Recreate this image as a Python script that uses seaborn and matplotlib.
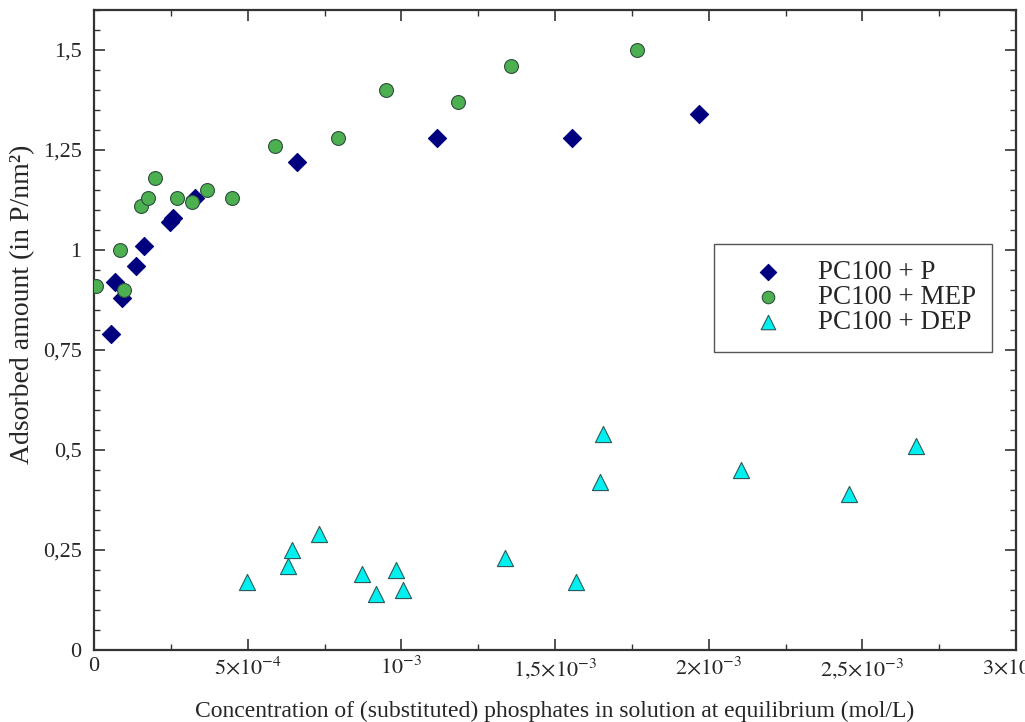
import numpy as np
import pandas as pd
import seaborn as sns
import matplotlib
matplotlib.use("Agg")
import matplotlib.pyplot as plt
from matplotlib.ticker import MultipleLocator, FixedLocator, FixedFormatter

# ---- data ----
p_x = [0.055e-3, 0.068e-3, 0.091e-3, 0.136e-3, 0.162e-3, 0.247e-3, 0.256e-3, 0.328e-3,
       0.659e-3, 1.117e-3, 1.555e-3, 1.968e-3]
p_y = [0.79, 0.92, 0.88, 0.96, 1.01, 1.07, 1.08, 1.13, 1.22, 1.28, 1.28, 1.34]

mep_x = [0.006e-3, 0.084e-3, 0.097e-3, 0.153e-3, 0.175e-3, 0.198e-3, 0.269e-3, 0.318e-3,
         0.367e-3, 0.448e-3, 0.588e-3, 0.795e-3, 0.951e-3, 1.185e-3, 1.357e-3, 1.766e-3]
mep_y = [0.91, 1.00, 0.90, 1.11, 1.13, 1.18, 1.13, 1.12, 1.15, 1.13, 1.26, 1.28, 1.40,
         1.37, 1.46, 1.50]

dep_x = [0.497e-3, 0.630e-3, 0.643e-3, 0.731e-3, 0.873e-3, 0.919e-3, 0.984e-3, 1.006e-3,
         1.338e-3, 1.568e-3, 1.646e-3, 1.656e-3, 2.104e-3, 2.458e-3, 2.675e-3]
dep_y = [0.17, 0.21, 0.25, 0.29, 0.19, 0.14, 0.20, 0.15, 0.23, 0.17, 0.42, 0.54, 0.45,
         0.39, 0.51]

series_names = ["PC100 + P", "PC100 + MEP", "PC100 + DEP"]
x_ticks = [0, 5e-4, 1e-3, 1.5e-3, 2e-3, 2.5e-3, 3e-3]
x_tick_labels = ["0", r"$5{\times}10^{-4}$", r"$10^{-3}$", r"$1{,}5{\times}10^{-3}$",
                 r"$2{\times}10^{-3}$", r"$2{,}5{\times}10^{-3}$", r"$3{\times}10^{-3}$"]
y_ticks = [0, 0.25, 0.5, 0.75, 1.0, 1.25, 1.5]
y_tick_labels = ["0", "0,25", "0,5", "0,75", "1", "1,25", "1,5"]

df = pd.DataFrame({
    "x": p_x + mep_x + dep_x,
    "y": p_y + mep_y + dep_y,
    "series": [series_names[0]] * len(p_x) + [series_names[1]] * len(mep_x)
              + [series_names[2]] * len(dep_x),
})

sns.set_style("white")
plt.rcParams["font.family"] = ["Liberation Serif", "DejaVu Serif"]
plt.rcParams["mathtext.fontset"] = "stix"

fig = plt.figure(figsize=(10.25, 7.22), dpi=100)
ax = fig.add_axes([94 / 1025, 72 / 722, (1016 - 94) / 1025, 640 / 722])

palette = {series_names[0]: "#00007f", series_names[1]: "#4caf50", series_names[2]: "#00f0f0"}
markers = {series_names[0]: "D", series_names[1]: "o", series_names[2]: "^"}
edges = {series_names[0]: "#00007f", series_names[1]: "#2f4f3f", series_names[2]: "#2a5a5a"}

for name, s in zip(series_names, [85, 100, 135]):
    sub = df[df.series == name]
    sns.scatterplot(data=sub, x="x", y="y", color=palette[name], marker=markers[name],
                    s=s, edgecolor=edges[name], linewidth=0.8, ax=ax, label=name, zorder=3)

ax.set_xlim(0, 3e-3)
ax.set_ylim(0, 1.6)
ax.xaxis.set_major_locator(FixedLocator(x_ticks))
ax.xaxis.set_major_formatter(FixedFormatter(x_tick_labels))
ax.xaxis.set_minor_locator(MultipleLocator(2.5e-4))
ax.yaxis.set_major_locator(FixedLocator(y_ticks))
ax.yaxis.set_major_formatter(FixedFormatter(y_tick_labels))
ax.yaxis.set_minor_locator(MultipleLocator(0.05))

ax.tick_params(which="both", direction="in", top=True, right=True, bottom=True, left=True,
               color="#333333", labelsize=16)
ax.tick_params(axis="x", which="major", pad=5)
ax.tick_params(axis="y", which="major", pad=9)
ax.tick_params(which="major", length=8, width=1.2)
ax.tick_params(which="minor", length=4, width=1.0)
for sp in ax.spines.values():
    sp.set_color("#333333")
    sp.set_linewidth(1.6)

ax.set_xlabel("Concentration of (substituted) phosphates in solution at equilibrium (mol/L)",
              fontsize=17, labelpad=14)
ax.set_ylabel("Adsorbed amount (in P/nm²)", fontsize=20)
ax.yaxis.set_label_coords((35 - 94) / 922, (650 - 304) / 640)

leg = ax.legend(loc="upper left", bbox_to_anchor=(0.672, 0.634), fontsize=19.5,
                frameon=True, fancybox=False, edgecolor="#555555", framealpha=1,
                markerscale=0.9, borderpad=0.6, handletextpad=0.45, labelspacing=0.0,
                borderaxespad=0, handlelength=2.8)
leg.get_frame().set_linewidth(1.0)

fig.savefig("out.png", dpi=100)
